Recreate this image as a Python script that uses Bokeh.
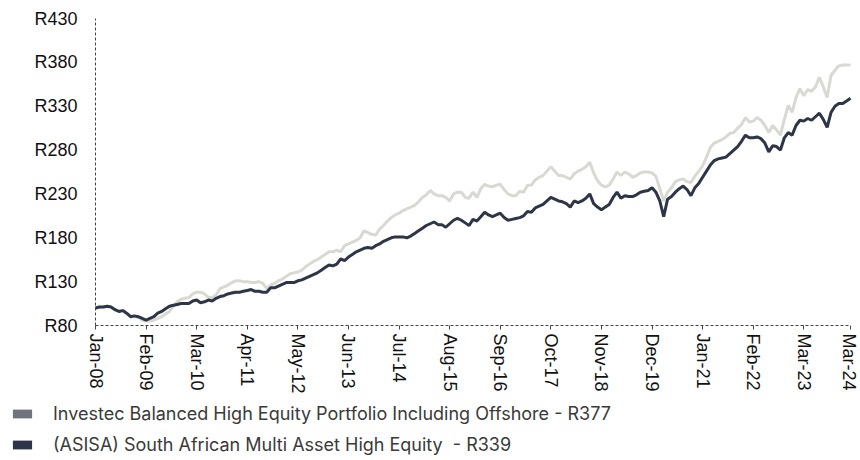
from bokeh.plotting import figure
from bokeh.models import (ColumnDataSource, FixedTicker, Range1d, Legend, LegendItem)
from bokeh.embed import file_html
from bokeh.resources import INLINE

# ---------------- data (monthly, Jan-08 .. Mar-24) ----------------
series_names = [
    "Investec Balanced High Equity Portfolio Including Offshore - R377",
    "(ASISA) South African Multi Asset High Equity  - R339",
]

investec = [
    100, 101, 101, 102, 101, 98, 96, 97, 94, 91, 90, 89, 86, 85, 85, 86, 88, 90, 93, 96,
    102, 107, 110, 111, 112, 116, 118, 118, 116, 112, 112, 115, 122, 124, 126, 129, 131, 131, 130, 130,
    129, 129, 130, 128, 122, 126, 128, 131, 133, 136, 139, 140, 141, 143, 147, 150, 153, 155, 158, 161,
    164, 164, 166, 164, 171, 173, 175, 177, 180, 188, 186, 184, 183, 190, 194, 199, 203, 206, 208, 211,
    213, 215, 217, 221, 226, 229, 234, 230, 228, 228, 226, 222, 230, 232, 232, 226, 225, 232, 226, 236,
    241, 239, 238, 240, 241, 235, 230, 228, 228, 233, 232, 240, 240, 246, 249, 251, 256, 261, 256, 251,
    251, 249, 247, 253, 256, 258, 261, 266, 254, 245, 240, 238, 240, 247, 255, 251, 255, 253, 249, 251,
    254, 255, 255, 254, 250, 236, 222, 232, 237, 244, 246, 247, 244, 243, 250, 256, 262, 272, 283, 288,
    290, 292, 295, 299, 300, 305, 309, 317, 312, 313, 317, 314, 308, 300, 308, 303, 297, 315, 331, 323,
    340, 350, 342, 349, 347, 352, 363, 352, 340, 365, 371, 376, 377, 377, 377,
]

asisa = [
    100, 101, 101, 102, 101, 98, 96, 97, 94, 90, 91, 90, 88, 86, 88, 90, 94, 96, 99, 102,
    103, 104, 105, 105, 105, 108, 109, 106, 107, 109, 108, 111, 113, 114, 116, 117, 118, 118, 119, 120,
    121, 119, 119, 118, 118, 123, 123, 125, 127, 129, 129, 129, 131, 132, 134, 136, 138, 140, 143, 146,
    149, 148, 150, 156, 154, 158, 161, 164, 166, 168, 169, 168, 171, 173, 176, 178, 180, 181, 181, 181,
    180, 182, 185, 188, 191, 194, 196, 198, 195, 195, 192, 196, 200, 202, 200, 197, 194, 201, 199, 204,
    209, 206, 204, 206, 208, 203, 200, 201, 202, 203, 205, 210, 209, 214, 216, 218, 222, 226, 224, 222,
    221, 219, 215, 222, 220, 222, 225, 230, 219, 215, 212, 215, 218, 226, 232, 225, 228, 227, 227, 229,
    232, 233, 234, 237, 232, 222, 204, 224, 227, 232, 236, 239, 235, 228, 237, 242, 249, 256, 263, 268,
    270, 271, 272, 276, 280, 284, 290, 297, 294, 294, 295, 293, 288, 278, 285, 284, 280, 294, 300, 297,
    308, 314, 313, 316, 314, 318, 322, 315, 306, 323, 330, 333, 333, 336, 339,
]

month_labels = ["Jan-08", "Feb-09", "Mar-10", "Apr-11", "May-12", "Jun-13", "Jul-14", "Aug-15",
                "Sep-16", "Oct-17", "Nov-18", "Dec-19", "Jan-21", "Feb-22", "Mar-23", "Mar-24"]
month_label_pos = [0, 13, 26, 39, 52, 65, 78, 91, 104, 117, 130, 143, 156, 169, 182, 194]

y_ticks = [80, 130, 180, 230, 280, 330, 380, 430]
y_tick_labels = ["R" + str(v) for v in y_ticks]

# ---------------- styling / geometry (pixels) ----------------
LIGHT_LINE = "#d9d9d4"
DARK_LINE = "#2e3547"
LEG_LIGHT = "#70747d"
LEG_DARK = "#2f3548"
AXIS_FONT = "Liberation Sans"

W, H = 858, 458
FRAME_L, FRAME_R, FRAME_T, FRAME_B = 10, 0, 0, 0        # borders around the drawing frame
AX_X0, AX_X1 = 95, 850                                   # where the first / last month sit
AX_Y_TOP, AX_Y_BOT = 18, 325                             # where the top / bottom y tick sit

n = len(asisa)
px_per_month = (AX_X1 - AX_X0) / (n - 1)
x_start = -(AX_X0 - FRAME_L) / px_per_month
x_end = (n - 1) + ((W - FRAME_R) - AX_X1) / px_per_month
px_per_unit = (AX_Y_BOT - AX_Y_TOP) / (y_ticks[-1] - y_ticks[0])
y_start = y_ticks[0] - ((H - FRAME_B) - AX_Y_BOT) / px_per_unit
y_end = y_ticks[-1] + (AX_Y_TOP - FRAME_T) / px_per_unit

src = ColumnDataSource(dict(m=list(range(n)), investec=investec, asisa=asisa))

p = figure(width=W, height=H, output_backend="svg", toolbar_location=None,
           x_range=Range1d(x_start, x_end), y_range=Range1d(y_start, y_end),
           min_border_left=FRAME_L, min_border_right=FRAME_R,
           min_border_top=FRAME_T, min_border_bottom=FRAME_B)
p.outline_line_color = None
p.grid.grid_line_color = None
p.background_fill_color = "white"
p.border_fill_color = "white"

p.line("m", "investec", source=src, line_color=LIGHT_LINE, line_width=3)
p.line("m", "asisa", source=src, line_color=DARK_LINE, line_width=3)

# legend-only swatch renderers (hidden bars carrying the same series)
r1 = p.vbar(x="m", top="investec", width=0.8, source=src,
            fill_color=LEG_LIGHT, line_color=None, visible=False)
r2 = p.vbar(x="m", top="asisa", width=0.8, source=src,
            fill_color=LEG_DARK, line_color=None, visible=False)

xa = p.xaxis[0]
xa.fixed_location = y_ticks[0]
xa.bounds = (0, n - 1)
xa.ticker = FixedTicker(ticks=month_label_pos)
xa.major_label_overrides = {pos: lab for pos, lab in zip(month_label_pos, month_labels)}
xa.major_label_orientation = "vertical"
xa.major_label_text_font = AXIS_FONT
xa.major_label_text_font_size = "18px"
xa.major_label_text_color = "#111111"
xa.major_label_standoff = 4
xa.major_tick_out = 4
xa.major_tick_in = 0
xa.major_tick_line_color = "#444444"
xa.minor_tick_line_color = None
xa.axis_line_color = "#444444"
xa.axis_line_dash = "3 2"

ya = p.yaxis[0]
ya.fixed_location = 0
ya.bounds = (y_ticks[0], y_ticks[-1])
ya.ticker = FixedTicker(ticks=y_ticks)
ya.major_label_overrides = {v: lab for v, lab in zip(y_ticks, y_tick_labels)}
ya.major_label_text_font = AXIS_FONT
ya.major_label_text_font_size = "18px"
ya.major_label_text_color = "#111111"
ya.major_label_standoff = 18
ya.major_tick_out = 0
ya.major_tick_in = 0
ya.minor_tick_line_color = None
ya.axis_line_color = "#444444"
ya.axis_line_dash = "3 2"

leg = Legend(items=[LegendItem(label=series_names[0], renderers=[r1]),
                    LegendItem(label=series_names[1], renderers=[r2])],
             location=(0, 3), orientation="vertical",
             glyph_width=24, glyph_height=11, label_standoff=19, spacing=10,
             padding=0, margin=0, border_line_color=None, background_fill_alpha=0,
             inactive_fill_alpha=0,
             label_text_font="Inter", label_text_font_size="18px",
             label_text_color="#3a3a3a", label_height=20)
p.add_layout(leg, "center")

with open("out.html", "w") as f:
    f.write(file_html(p, INLINE))
